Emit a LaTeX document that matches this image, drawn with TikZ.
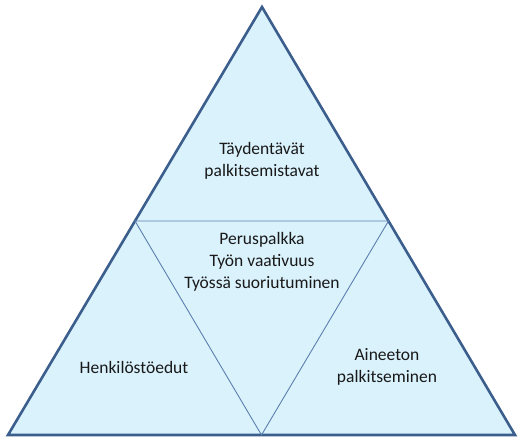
\documentclass[tikz,border=0pt]{standalone}
\usepackage{fontspec}
\setmainfont{Carlito}
\usepackage{tikz}
\usetikzlibrary{positioning}

\definecolor{pyrfill}{HTML}{DAF2FC}
\definecolor{pyredge}{HTML}{3B5E8C}
\definecolor{pyrline}{HTML}{5B7FAE}

\tikzset{
  outer/.style={draw=pyredge, line width=2.6pt, line join=miter, fill=pyrfill},
  inner/.style={draw=pyrline, line width=0.9pt},
  label/.style={align=center, font=\fontsize{17.5}{22}\selectfont, text=black!90, inner sep=0pt}
}

\begin{document}
\begin{tikzpicture}[x=1pt, y=-1pt]
    \useasboundingbox (0,0) rectangle (523,444);

    % Corners of the pyramid
    \coordinate (top) at (262,7);
    \coordinate (left) at (8,435);
    \coordinate (right) at (515,435);
    \coordinate (midleft) at (135,221);
    \coordinate (midright) at (388.5,221);
    \coordinate (midbase) at (261.5,435);

    % Outer triangle
    \draw[outer] (top) -- (right) -- (left) -- cycle;

    % Inner triangle
    \draw[inner] (midleft) -- (midright) -- (midbase) -- cycle;

    % Labels
    \node[label] (extra) at (262,161) {Täydentävät\\palkitsemistavat};
    \node[label] (base) at (262,262) {Peruspalkka\\Työn vaativuus\\Työssä suoriutuminen};
    \node[label] (benefits) at (134,367) {Henkilöstöedut};
    \node[label] (intangible) at (387,367) {Aineeton\\palkitseminen};
  \end{tikzpicture}
\end{document}
